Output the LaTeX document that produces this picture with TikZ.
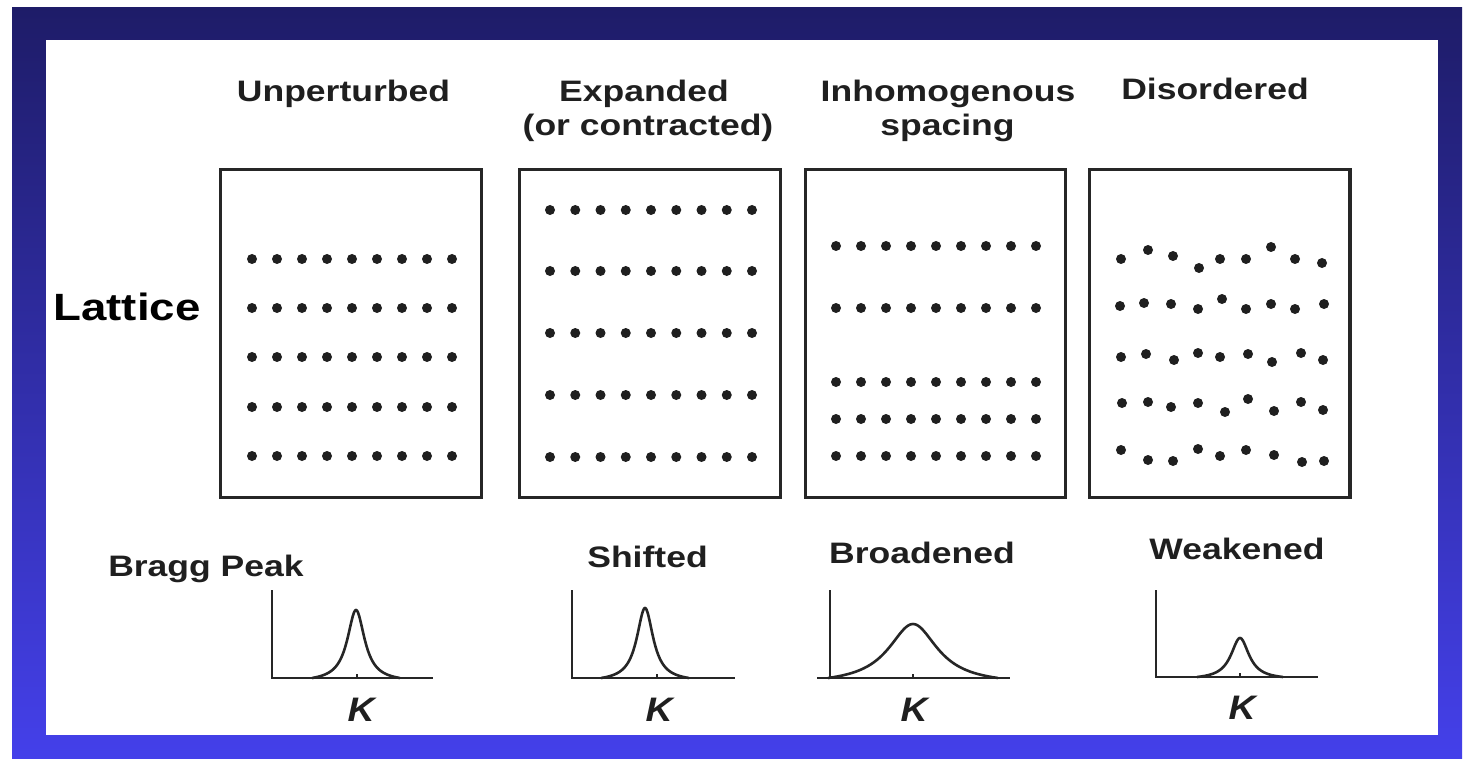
\documentclass[tikz,border=0pt]{standalone}
\usepackage{fontspec}
\usepackage{graphicx}
\setmainfont{Liberation Sans}
\begin{document}
\begin{tikzpicture}[x=0.5pt,y=-0.5pt,
  lbl/.style={font=\fontsize{14.8}{17}\selectfont\bfseries, text=black!88, anchor=base, inner sep=0pt},
  big/.style={font=\fontsize{19}{22}\selectfont\bfseries, anchor=base, inner sep=0pt},
  klbl/.style={font=\fontsize{17}{20}\selectfont\bfseries\itshape, text=black!88, anchor=base, inner sep=0pt},
  latbox/.style={draw=black!85, line width=1.5pt},
  axisline/.style={line width=1.3pt, black!85},
  peakline/.style={line width=1.3pt, black!85},
  dotr/.style={fill=black!88}]
\definecolor{navy}{RGB}{30,28,104}
\definecolor{brightblue}{RGB}{68,64,234}
\useasboundingbox (0,0) rectangle (1466,759);
\fill[white] (0,0) rectangle (1466,759);
\shade[top color=navy, bottom color=brightblue] (12,8) rectangle (1462,759);
\fill[white] (46,40) rectangle (1438,735);

% titles
\node[lbl] (t1) at (343.5,101.7) {\scalebox{1.2}[1]{Unperturbed}};
\node[lbl] (t2a) at (644,101.7) {\scalebox{1.2}[1]{Expanded}};
\node[lbl] (t2b) at (648,136) {\scalebox{1.2}[1]{(or contracted)}};
\node[lbl] (t3a) at (948,101.7) {\scalebox{1.2}[1]{Inhomogenous}};
\node[lbl] (t3b) at (947.5,136) {\scalebox{1.2}[1]{spacing}};
\node[lbl] (t4) at (1215,100) {\scalebox{1.2}[1]{Disordered}};
\node[big] (lat) at (127,320) {\scalebox{1.2}[1]{Lattice}};

% boxes
\draw[latbox] (220,170) rectangle (481,497);
\draw[latbox] (519,170) rectangle (780,497);
\draw[latbox] (805,170) rectangle (1065,497);
\draw[latbox] (1089,170) rectangle (1350,497);
\draw[line width=2.2pt, black!85] (1350,170) -- (1350,497);

% dots
\foreach \r in {259,308,357,407,456}
  \foreach \i in {0,...,8}
    \fill[dotr] (252+25*\i,\r) circle[radius=2.5pt];
\foreach \r in {210,271,333,395,457}
  \foreach \i in {0,...,8}
    \fill[dotr] (550+25.25*\i,\r) circle[radius=2.5pt];
\foreach \r in {246,308,382,419,456}
  \foreach \i in {0,...,8}
    \fill[dotr] (836+25*\i,\r) circle[radius=2.5pt];
\foreach \p in {(1121,259),(1148,250),(1173,256),(1199,268),(1220,259),(1246,259),(1271,247),(1295,259),(1322,263),
  (1120,306),(1144,303),(1171,304),(1198,309),(1222,299),(1246,309),(1271,304),(1295,309),(1324,304),
  (1121,357),(1146,354),(1174,360),(1198,353),(1220,357),(1248,354),(1272,362),(1301,353),(1323,360),
  (1122,403),(1148,402),(1171,407),(1198,403),(1225,412),(1248,399),(1274,411),(1301,402),(1323,410),
  (1121,450),(1148,460),(1173,461),(1198,449),(1220,456),(1246,450),(1274,455),(1302,462),(1324,461)}
  \fill[dotr] \p circle[radius=2.5pt];

% bottom labels
\node[lbl] (b1) at (206,576) {\scalebox{1.2}[1]{Bragg Peak}};
\node[lbl] (b2) at (647.5,567) {\scalebox{1.2}[1]{Shifted}};
\node[lbl] (b3) at (922,563) {\scalebox{1.2}[1]{Broadened}};
\node[lbl] (b4) at (1237,559) {\scalebox{1.2}[1]{Weakened}};

% plot 1
\draw[axisline] (272,590) -- (272,678) -- (433,678);
\draw[axisline, line width=0.7pt] (357,678) -- (357,674);
\draw[peakline] plot[domain=-44:44, samples=121, smooth] ({356+\x},{678-68*(1/(1+(\x/10.5)^2)-0.0539)/(1-0.0539)});
\node[klbl] (k1) at (361,721) {\scalebox{1.1}[1]{K}};

% plot 2
\draw[axisline] (572,590) -- (572,678) -- (735,678);
\draw[axisline, line width=0.7pt] (657,678) -- (657,674);
\draw[peakline] plot[domain=-44:44, samples=121, smooth] ({645+\x},{678-70*(1/(1+(\x/10)^2)-0.0491)/(1-0.0491)});
\node[klbl] (k2) at (659,721) {\scalebox{1.1}[1]{K}};

% plot 3
\draw[axisline] (830,590) -- (830,678);
\draw[axisline] (817,678) -- (1010,678);
\draw[axisline, line width=0.7pt] (913,678) -- (913,674);
\draw[peakline] plot[domain=-85:85, samples=121, smooth] ({913+\x},{678-54*(1/(1+(\x/30)^2)-0.1107)/(1-0.1107)});
\node[klbl] (k3) at (914,721) {\scalebox{1.1}[1]{K}};

% plot 4
\draw[axisline] (1156,590) -- (1156,677) -- (1318,677);
\draw[axisline, line width=0.7pt] (1240,677) -- (1240,673);
\draw[peakline] plot[domain=-43:43, samples=121, smooth] ({1240+\x},{677-39*(1/(1+(\x/11)^2)-0.0614)/(1-0.0614)});
\node[klbl] (k4) at (1242,719) {\scalebox{1.1}[1]{K}};
\end{tikzpicture}
\end{document}
